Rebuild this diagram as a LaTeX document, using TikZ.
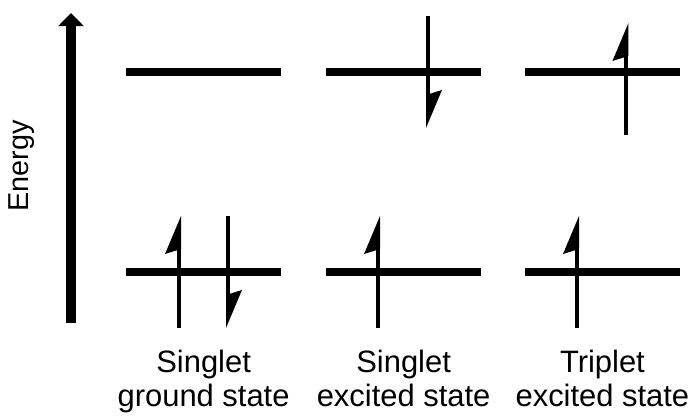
\documentclass[tikz,border=0pt]{standalone}
\usepackage{fontspec}
\setmainfont{Liberation Sans}
\usetikzlibrary{arrows.meta}
\tikzset{
  level/.style={line width=5.3pt},
  spin/.style={line width=2.85pt},
  caption/.style={align=center,anchor=north,inner sep=0pt,font=\fontsize{22}{24.2}\selectfont},
  pics/spinup/.style={code={
    \draw[spin] (0,-1.4) -- (0,0.9);
    \fill (0.05,1.4) -- (-0.35,0.45) -- (0.05,0.575) -- cycle;
  }},
  pics/spindown/.style={code={
    \draw[spin] (0,1.4) -- (0,-0.9);
    \fill (-0.05,-1.4) -- (0.35,-0.45) -- (-0.05,-0.575) -- cycle;
  }},
}
\begin{document}
\begin{tikzpicture}
  \useasboundingbox (0,0) rectangle (17.275,10.425);
  % energy axis
  \draw[line width=6.75pt,-{Triangle[width=0.625cm,length=0.33cm]}] (1.775,2.35) -- (1.775,10.1);
  \node[rotate=90,font=\fontsize{20.5}{24.2}\selectfont] (energy) at (0.55,6.275) {Energy};
  % levels
  \draw[level] (3.15,8.625) -- (7.025,8.625);
  \draw[level] (8.15,8.625) -- (12.025,8.625);
  \draw[level] (13.125,8.625) -- (17.0,8.625);
  \draw[level] (3.15,3.625) -- (7.025,3.625);
  \draw[level] (8.15,3.625) -- (12.025,3.625);
  \draw[level] (13.125,3.625) -- (17.0,3.625);
  % electrons
  \pic at (4.475,3.625) {spinup};
  \pic at (5.7,3.625) {spindown};
  \pic at (10.7,8.625) {spindown};
  \pic at (9.45,3.625) {spinup};
  \pic at (15.66,8.45) {spinup};
  \pic at (14.425,3.625) {spinup};
  % labels
  \node[caption] (sground) at (5.09,1.68) {Singlet\\ground state};
  \node[caption] (sexcited) at (10.09,1.68) {Singlet\\excited state};
  \node[caption] (texcited) at (15.06,1.68) {Triplet\\excited state};
\end{tikzpicture}
\end{document}
